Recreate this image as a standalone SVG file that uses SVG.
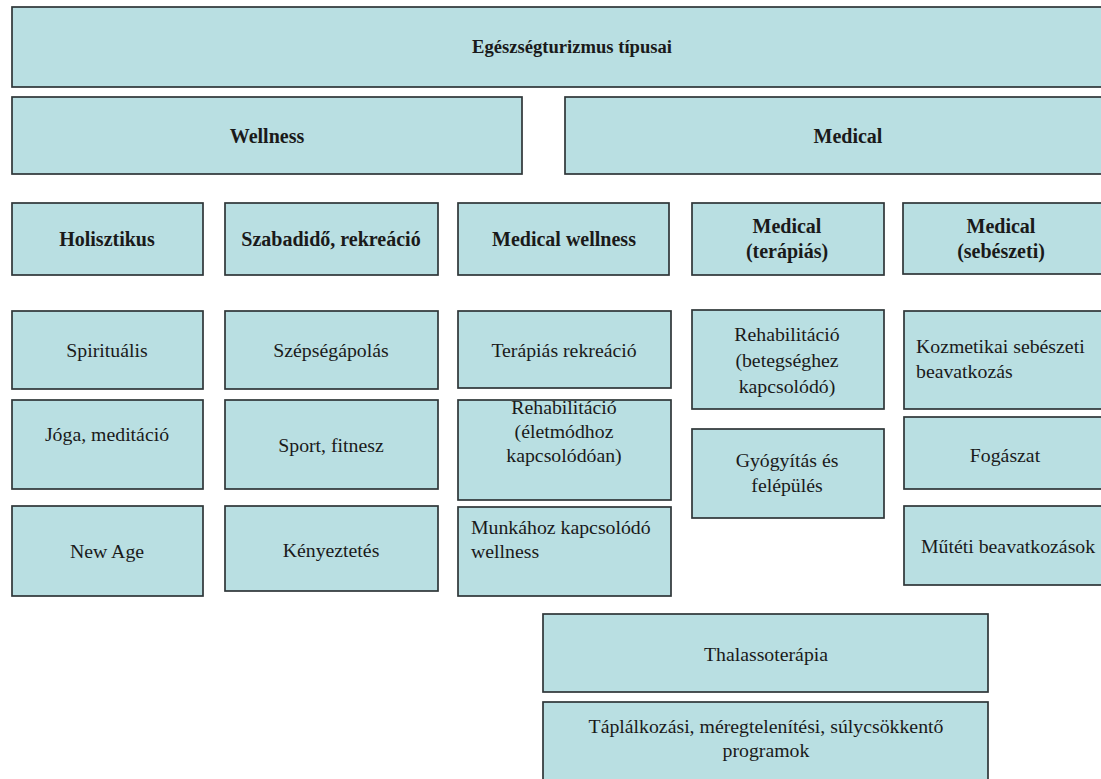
<svg xmlns="http://www.w3.org/2000/svg" width="1101" height="779" viewBox="0 0 1101 779">
<style>
.b{fill:#b9dfe2;stroke:#2e3638;stroke-width:1.7}
text{font-family:'Liberation Serif','Times New Roman','DejaVu Serif',serif;font-size:19.8px;fill:#1a1a1a}
.c{text-anchor:middle}
.bold{font-weight:bold;font-size:20px}
.t{font-size:18.6px}
</style>
<rect width="1101" height="779" fill="#ffffff"/>
<g id="connectors"></g>
<g font-family="Liberation Serif, Times New Roman, DejaVu Serif, serif">
<g id="title"><rect class="b" x="12" y="7" width="1120" height="80"/><text class="c bold t" x="572" y="53">Egészségturizmus típusai</text></g>
<g id="wellness"><rect class="b" x="12" y="97" width="510" height="77"/><text class="c bold" x="267" y="143">Wellness</text></g>
<g id="medical"><rect class="b" x="565" y="97" width="567" height="77"/><text class="c bold" x="848" y="143">Medical</text></g>

<g id="holisztikus"><rect class="b" x="12" y="203" width="191" height="72"/><text class="c bold" x="107" y="246">Holisztikus</text></g>
<g id="szabadido"><rect class="b" x="225" y="203" width="213" height="72"/><text class="c bold" x="331" y="246">Szabadidő, rekreáció</text></g>
<g id="medical-wellness"><rect class="b" x="458" y="203" width="211" height="72"/><text class="c bold" x="564" y="246">Medical wellness</text></g>
<g id="medical-terapias"><rect class="b" x="692" y="203" width="192" height="72"/><text class="c bold" x="787" y="233">Medical</text><text class="c bold" x="787" y="258">(terápiás)</text></g>
<g id="medical-sebeszeti"><rect class="b" x="903" y="203" width="210" height="71"/><text class="c bold" x="1001" y="233">Medical</text><text class="c bold" x="1001" y="258">(sebészeti)</text></g>

<g id="spiritualis"><rect class="b" x="12" y="311" width="191" height="78"/><text class="c" x="107" y="357">Spirituális</text></g>
<g id="szepsegapolas"><rect class="b" x="225" y="311" width="213" height="78"/><text class="c" x="331" y="357">Szépségápolás</text></g>
<g id="terapias-rekreacio"><rect class="b" x="458" y="311" width="213" height="77"/><text class="c" x="564" y="357">Terápiás  rekreáció</text></g>
<g id="rehab-betegseg"><rect class="b" x="692" y="310" width="192" height="99"/><text class="c" x="787" y="341">Rehabilitáció</text><text class="c" x="787" y="367">(betegséghez</text><text class="c" x="787" y="393">kapcsolódó)</text></g>
<g id="kozmetikai"><rect class="b" x="904" y="311" width="210" height="98"/><text x="916" y="353">Kozmetikai  sebészeti</text><text x="916" y="378">beavatkozás</text></g>

<g id="joga"><rect class="b" x="12" y="400" width="191" height="89"/><text class="c" x="107" y="441">Jóga, meditáció</text></g>
<g id="sport"><rect class="b" x="225" y="400" width="213" height="89"/><text class="c" x="331" y="452">Sport, fitnesz</text></g>
<g id="rehab-eletmod"><rect class="b" x="458" y="400" width="213" height="100"/><text class="c" x="564" y="414">Rehabilitáció</text><text class="c" x="564" y="438">(életmódhoz</text><text class="c" x="564" y="462">kapcsolódóan)</text></g>
<g id="gyogyitas"><rect class="b" x="692" y="429" width="192" height="89"/><text class="c" x="787" y="467">Gyógyítás és</text><text class="c" x="787" y="492">felépülés</text></g>
<g id="fogaszat"><rect class="b" x="904" y="417" width="210" height="72"/><text class="c" x="1005" y="462">Fogászat</text></g>

<g id="new-age"><rect class="b" x="12" y="506" width="191" height="90"/><text class="c" x="107" y="558">New Age</text></g>
<g id="kenyeztetes"><rect class="b" x="225" y="506" width="213" height="85"/><text class="c" x="331" y="557">Kényeztetés</text></g>
<g id="munkahoz"><rect class="b" x="458" y="507" width="213" height="89"/><text x="471" y="534">Munkához kapcsolódó</text><text x="471" y="558">wellness</text></g>
<g id="muteti"><rect class="b" x="904" y="506" width="210" height="79"/><text x="921" y="553">Műtéti beavatkozások</text></g>

<g id="thalassoterapia"><rect class="b" x="543" y="614" width="445" height="78"/><text class="c" x="766" y="661">Thalassoterápia</text></g>
<g id="taplalkozasi"><rect class="b" x="543" y="702" width="445" height="100"/><text class="c" x="766" y="733">Táplálkozási,  méregtelenítési,  súlycsökkentő</text><text class="c" x="766" y="757">programok</text></g>
</g>
</svg>
